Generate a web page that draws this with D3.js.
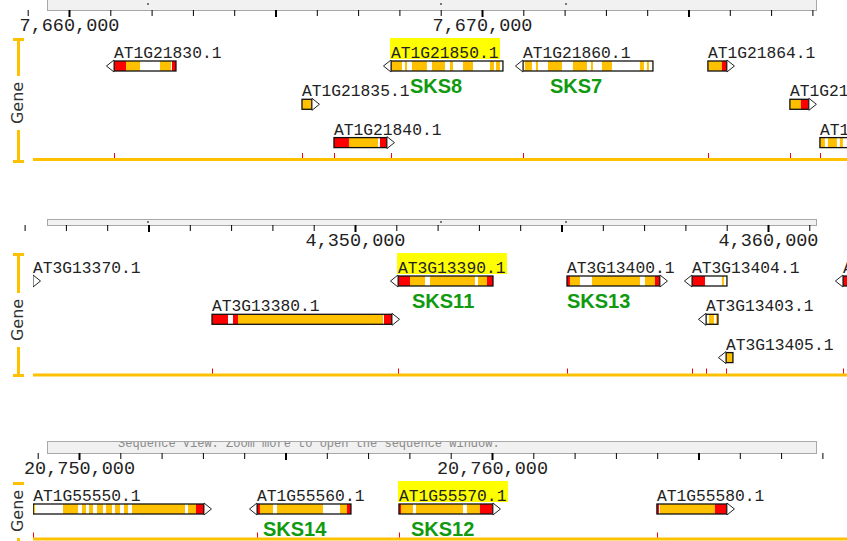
<!DOCTYPE html>
<html>
<head>
<meta charset="utf-8">
<script src="https://cdn.jsdelivr.net/npm/d3@7"></script>
<style>
  body { margin: 0; background: #fff; }
  svg { display: block; }
</style>
</head>
<body>
<div id="chart"></div>
<script>

// gene models, positions in bp. parts: u = UTR (red), c = CDS exon (yellow), gaps = intron (white)
const chr1aGenes = [
  {name: "AT1G21830.1", start: 7661089, end: 7662590, strand: -1, row: 0,
    parts: [["u", 7661089, 7661380], ["c", 7661380, 7661719], ["c", 7662203, 7662469], ["u", 7662494, 7662590]]},
  {name: "AT1G21835.1", start: 7665641, end: 7665883, strand: 1, row: 1,
    parts: [["c", 7665641, 7665883]]},
  {name: "AT1G21840.1", start: 7666416, end: 7667699, strand: 1, row: 2,
    parts: [["u", 7666416, 7666779], ["c", 7666779, 7667481], ["u", 7667529, 7667699]]},
  {name: "AT1G21850.1", start: 7667796, end: 7670507, strand: -1, row: 0,
    parts: [["c", 7667796, 7668062], ["c", 7668135, 7668183], ["c", 7668304, 7668667], ["c", 7668788, 7669103],
            ["c", 7669224, 7669297], ["c", 7669539, 7669781], ["c", 7670192, 7670289], ["c", 7670338, 7670435]]},
  {name: "AT1G21860.1", start: 7670991, end: 7674139, strand: -1, row: 0,
    parts: [["c", 7671040, 7671209], ["c", 7671306, 7671354], ["c", 7671597, 7671936], ["c", 7672202, 7672541],
            ["c", 7672638, 7672686], ["c", 7672904, 7673146], ["c", 7673824, 7673921], ["c", 7673993, 7674042]]},
  {name: "AT1G21864.1", start: 7675470, end: 7675930, strand: 1, row: 0,
    parts: [["c", 7675470, 7675809], ["u", 7675809, 7675930]]},
  {name: "AT1G21865.1", start: 7677455, end: 7677915, strand: 1, row: 1,
    parts: [["c", 7677455, 7677722], ["u", 7677722, 7677915]]},
  {name: "AT1G21870.1", start: 7678182, end: 7680200, strand: 1, row: 2,
    parts: [["c", 7678182, 7678302], ["c", 7678375, 7678593], ["c", 7678665, 7678738], ["c", 7678900, 7679100]]}
]

const chr3Genes = [
  {name: "AT3G13370.1", start: 4340800, end: 4342204, strand: 1, row: 0,
    parts: [["c", 4340800, 4342204]]},
  {name: "AT3G13380.1", start: 4346538, end: 4350896, strand: 1, row: 1,
    parts: [["u", 4346538, 4346925], ["u", 4347046, 4347167], ["c", 4347167, 4350678], ["u", 4350702, 4350896]]},
  {name: "AT3G13390.1", start: 4351041, end: 4353341, strand: -1, row: 0,
    parts: [["u", 4351041, 4351332], ["c", 4351332, 4351695], ["c", 4351816, 4352905], ["c", 4352978, 4353196], ["u", 4353196, 4353341]]},
  {name: "AT3G13400.1", start: 4355133, end: 4357384, strand: 1, row: 0,
    parts: [["u", 4355133, 4355205], ["c", 4355205, 4355447], ["c", 4355738, 4356900], ["c", 4357021, 4357263], ["u", 4357263, 4357384]]},
  {name: "AT3G13404.1", start: 4358159, end: 4359006, strand: -1, row: 0,
    parts: [["u", 4358159, 4358474], ["c", 4358885, 4358933]]},
  {name: "AT3G13403.1", start: 4358498, end: 4358788, strand: -1, row: 1,
    parts: [["c", 4358570, 4358691], ["c", 4358740, 4358788]]},
  {name: "AT3G13405.1", start: 4358982, end: 4359151, strand: -1, row: 2,
    parts: [["c", 4358982, 4359151]]},
  {name: "AT3G13410.1", start: 4361814, end: 4364500, strand: -1, row: 0,
    parts: [["u", 4361814, 4362100], ["c", 4362100, 4363000]]}
]

const chr1bGenes = [
  {name: "AT1G55550.1", start: 20748890, end: 20753026, strand: 1, row: 0,
    parts: [["c", 20748890, 20748935], ["c", 20749613, 20749976], ["c", 20750073, 20750169], ["c", 20750242, 20750339],
            ["c", 20750436, 20750581], ["c", 20750654, 20750799], ["c", 20750872, 20750993], ["c", 20751089, 20751186],
            ["c", 20751283, 20752566], ["c", 20752639, 20752833], ["u", 20752833, 20753026]]},
  {name: "AT1G55560.1", start: 20754309, end: 20756585, strand: -1, row: 0,
    parts: [["u", 20754309, 20754382], ["c", 20754382, 20754697], ["c", 20754794, 20755907], ["c", 20756319, 20756488], ["u", 20756488, 20756585]]},
  {name: "AT1G55570.1", start: 20757747, end: 20760023, strand: 1, row: 0,
    parts: [["u", 20757747, 20757796], ["c", 20757796, 20758086], ["c", 20758159, 20759297], ["c", 20759393, 20759708], ["u", 20759708, 20760023]]},
  {name: "AT1G55580.1", start: 20763993, end: 20765688, strand: 1, row: 0,
    parts: [["u", 20763993, 20764042], ["c", 20764066, 20765398], ["u", 20765398, 20765688]]}
]

// ruler labels (bp) for each view
const chr1aLabels = [7660000, 7670000]
const chr3Labels = [4350000, 4360000]
const chr1bLabels = [20750000, 20760000]

// selected genes (yellow name) and their SKS names, placed at a bp position
const highlighted = ["AT1G21850.1", "AT3G13390.1", "AT1G55570.1"]
const sksNames = [
  {gene: "AT1G21850.1", text: "SKS8", at: 7668256},
  {gene: "AT1G21860.1", text: "SKS7", at: 7671645},
  {gene: "AT3G13390.1", text: "SKS11", at: 4351380},
  {gene: "AT3G13400.1", text: "SKS13", at: 4355133},
  {gene: "AT1G55560.1", text: "SKS14", at: 20754455},
  {gene: "AT1G55570.1", text: "SKS12", at: 20758038}
]


const width = 847, height = 541
const yellow = "#ffc000", red = "#ff0000"
const mono = "'Liberation Mono', 'DejaVu Sans Mono', monospace"

// layout of the three stacked views
const views = [
  {key: "a", genes: chr1aGenes, labels: chr1aLabels, x0: 69, boxTop: -2, y0: 10, axisY: 159.5, bracket: [38, 163], textMid: 103, dots: true},
  {key: "b", genes: chr3Genes, labels: chr3Labels, x0: 355, boxTop: 219, y0: 225, axisY: 375, bracket: [253, 377], textMid: 320, dots: true},
  {key: "c", genes: chr1bGenes, labels: chr1bLabels, x0: 79, boxTop: 441, y0: 453, axisY: 539, bracket: [482, 570], textMid: 511, dots: false}
]

const svg = d3.select("#chart")
  .append("svg")
  .attr("width", width)
  .attr("height", height)

svg.append("rect").attr("width", width).attr("height", height).attr("fill", "#fff")

const defs = svg.append("defs")


function drawView(v) {

  const x = d3.scaleLinear()
    .domain(v.labels)
    .range([v.x0, v.x0 + 413])

  const g = svg.append("g")

  // ruler box
  defs.append("clipPath").attr("id", "box-" + v.key)
    .append("rect").attr("x", 47).attr("y", v.boxTop + 1).attr("width", 770).attr("height", v.y0 - v.boxTop - 1)

  g.append("rect")
    .attr("x", 47.5).attr("y", v.boxTop + 0.5)
    .attr("width", 769).attr("height", v.y0 - v.boxTop)
    .attr("fill", "#f1f1f1")
    .attr("stroke", "#a8a8a8")

  if (v.dots) {
    g.selectAll(".dot").data([147, 440, 565]).enter()
      .append("rect")
      .attr("x", d => d).attr("y", (v.y0 + v.boxTop) / 2 - 1)
      .attr("width", 2).attr("height", 2)
      .attr("fill", "#777")
  } else {
    // only the lower half of this line shows in the view
    g.append("text")
      .attr("clip-path", "url(#box-" + v.key + ")")
      .attr("x", 118).attr("y", v.boxTop + 6)
      .attr("font-family", mono).attr("font-size", 12)
      .attr("fill", "#8a8a8a")
      .text("Sequence View:   Zoom more to open the sequence window.")
  }

  // ruler ticks every 1 kb
  const lo = x.invert(0), hi = x.invert(width)
  const ticks = d3.range(Math.ceil(lo / 1000) * 1000, hi, 1000)

  const axis = d3.axisBottom(x)
    .tickValues(ticks)
    .tickSize(6)
    .tickFormat(d => d % 10000 === 0 ? d3.format(",")(d) : "")

  const ax = g.append("g")
    .attr("transform", `translate(0,${v.y0})`)
    .call(axis)
    .attr("font-family", mono)
    .attr("font-size", 18.5)

  ax.select(".domain").remove()
  ax.selectAll(".tick line")
    .attr("stroke", "#000")
    .attr("stroke-width", d => d % 5000 === 0 ? 2 : 1)
    .attr("y2", d => d % 5000 === 0 ? 7 : 6)
  ax.selectAll(".tick text")
    .attr("y", 21)
    .attr("dy", 0)
    .attr("fill", "#222")

  // track bracket with the "Gene" label
  const [bt, bb] = v.bracket
  g.append("rect").attr("x", 17).attr("y", bt).attr("width", 3).attr("height", v.textMid - 27 - bt).attr("fill", yellow)
  g.append("rect").attr("x", 17).attr("y", v.textMid + 27).attr("width", 3).attr("height", bb - v.textMid - 27).attr("fill", yellow)
  g.append("rect").attr("x", 13).attr("y", bt).attr("width", 11).attr("height", 3).attr("fill", yellow)
  g.append("rect").attr("x", 13).attr("y", bb - 3).attr("width", 11).attr("height", 3).attr("fill", yellow)

  g.append("text")
    .attr("transform", `translate(23,${v.textMid}) rotate(-90)`)
    .attr("text-anchor", "middle")
    .attr("font-family", "'DejaVu Sans', Verdana, sans-serif")
    .attr("font-size", 16)
    .attr("fill", "#333")
    .text("Gene")

  // track axis line and red start marks
  g.append("rect")
    .attr("x", 33).attr("y", v.axisY - 1.5)
    .attr("width", width - 33).attr("height", 3)
    .attr("fill", yellow)

  g.selectAll(".mark")
    .data(v.genes.filter(d => x(d.start) >= 32 && x(d.start) <= width))
    .enter()
    .append("rect")
    .attr("x", d => Math.round(x(d.start)))
    .attr("y", v.axisY - 6.5)
    .attr("width", 1)
    .attr("height", 5)
    .attr("fill", red)

  // genes
  defs.append("clipPath").attr("id", "track-" + v.key)
    .append("rect").attr("x", 33).attr("y", v.y0).attr("width", width - 33).attr("height", 600)

  const rowTop = d => v.y0 + 51 + d.row * 38.3

  const genes = g.append("g").attr("clip-path", "url(#track-" + v.key + ")")
    .selectAll("g")
    .data(v.genes)
    .enter()
    .append("g")

  genes.append("rect")
    .attr("x", d => x(d.start))
    .attr("y", d => rowTop(d))
    .attr("width", d => x(d.end) - x(d.start))
    .attr("height", 10)
    .attr("fill", "#fff")

  genes.selectAll(".part")
    .data(d => d.parts.map(p => ({type: p[0], from: p[1], to: p[2], row: d.row})))
    .enter()
    .append("rect")
    .attr("x", p => x(p.from))
    .attr("y", p => rowTop(p))
    .attr("width", p => Math.max(1, x(p.to) - x(p.from)))
    .attr("height", 10)
    .attr("fill", p => p.type === "u" ? red : yellow)

  genes.append("rect")
    .attr("x", d => x(d.start))
    .attr("y", d => rowTop(d))
    .attr("width", d => x(d.end) - x(d.start))
    .attr("height", 10)
    .attr("fill", "none")
    .attr("stroke", "#111")
    .attr("stroke-width", 1.3)

  genes.append("path")
    .attr("d", d => {
      const t = rowTop(d)
      if (d.strand > 0) {
        const e = x(d.end)
        return `M${e},${t - 1}L${e + 7.5},${t + 5}L${e},${t + 11}Z`
      }
      const s = x(d.start)
      return `M${s},${t - 1}L${s - 7.5},${t + 5}L${s},${t + 11}Z`
    })
    .attr("fill", "#fff")
    .attr("stroke", "#222")
    .attr("stroke-width", 1)

  // gene names
  const names = g.selectAll(".gname")
    .data(v.genes)
    .enter()
    .append("g")

  names.filter(d => highlighted.includes(d.name))
    .append("rect")
    .attr("x", d => Math.max(33, x(d.start)) - 1)
    .attr("y", d => rowTop(d) - 23)
    .attr("width", 110)
    .attr("height", 21)
    .attr("fill", "#ffff00")

  names.append("text")
    .attr("x", d => Math.max(33, x(d.start)))
    .attr("y", d => rowTop(d) - 3)
    .attr("font-family", mono)
    .attr("font-size", 16.3)
    .attr("fill", "#222")
    .text(d => d.name)

  // SKS annotations
  g.selectAll(".sks")
    .data(sksNames.filter(s => v.genes.some(d => d.name === s.gene)))
    .enter()
    .append("text")
    .attr("x", s => x(s.at))
    .attr("y", s => rowTop(v.genes.find(d => d.name === s.gene)) + 32)
    .attr("font-family", "'Liberation Sans', Arial, sans-serif")
    .attr("font-weight", "bold")
    .attr("font-size", 20)
    .attr("fill", "#109a10")
    .text(s => s.text)
}

views.forEach(drawView)

</script>
</body>
</html>
